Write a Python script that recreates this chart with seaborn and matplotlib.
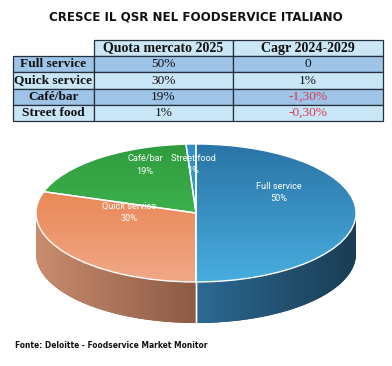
import numpy as np
import matplotlib
matplotlib.use("Agg")
import matplotlib.pyplot as plt
import seaborn as sns
from matplotlib.colors import LinearSegmentedColormap
from matplotlib.patches import Polygon, Wedge
from matplotlib import font_manager

sns.set_theme(style="white")
plt.rcParams['font.family'] = ['Roboto', 'DejaVu Sans']

# ---------------- data ----------------
title = "CRESCE IL QSR NEL FOODSERVICE ITALIANO"
source = "Fonte: Deloitte - Foodservice Market Monitor"
categories = ["Full service", "Quick service", "Café/bar", "Street food"]
share_2025 = [50, 30, 19, 1]
share_labels = ["50%", "30%", "19%", "1%"]
cagr_labels = ["0", "1%", "-1,30%", "-0,30%"]
cagr_values = [0.0, 1.0, -1.3, -0.3]
col_headers = ["Quota mercato 2025", "Cagr 2024-2029"]

# ---------------- styles ----------------
top_dark = ["#2a74a6", "#e5773d", "#2e9c3e", "#2f8fc8"]
top_light = ["#48addf", "#f1a887", "#4ec45c", "#45a9de"]
side_left = ["#2c6a93", "#ca8c6e", "#2a8a38", "#2c6a93"]
side_right = ["#1a3c54", "#8c5a45", "#1f6a2a", "#1a3c54"]
hdr_col = "#cbe7f6"
dark_row = "#9ec4e7"
light_row = "#c9e6f7"
edge_col = "#24303c"
neg_col = "#dc3550"

# pick a condensed bold face if installed, else Roboto
cond_fp = font_manager.FontProperties(family="DejaVu Sans", stretch="condensed",
                                      weight="bold")
cond_path = font_manager.findfont(cond_fp, fallback_to_default=True)
if "Condensed" in cond_path:
    head_font = dict(family="DejaVu Sans", fontstretch="condensed")
else:
    head_font = dict(family=["Roboto", "DejaVu Sans"])

W, H = 392, 366
fig = plt.figure(figsize=(W / 100, H / 100), dpi=100)
fig.patch.set_facecolor("white")
renderer = fig.canvas.get_renderer()


def fig_rect(x0, y0, x1, y1):
    return [x0 / W, 1 - y1 / H, (x1 - x0) / W, (y1 - y0) / H]


def fit_text(t, target_w):
    w = t.get_window_extent(renderer).width
    t.set_fontsize(t.get_fontsize() * target_w / w)


# ---------------- title ----------------
t = fig.text(196 / W, 1 - 17 / H, title, ha="center", va="center",
             fontsize=11, fontweight="bold", color="#111111", **head_font)
fit_text(t, 292)

# ---------------- table ----------------
ax_t = fig.add_axes(fig_rect(13, 40, 383, 121))
ax_t.axis("off")
cell_text = [[""] + col_headers] + [
    [c, s, g] for c, s, g in zip(categories, share_labels, cagr_labels)
]
colw = np.array([81, 139, 150]) / 370
tab = ax_t.table(cellText=cell_text, colWidths=list(colw), bbox=[0, 0, 1, 1],
                 cellLoc="center")
tab.auto_set_font_size(False)
for (r, c), cell in tab.get_celld().items():
    cell.set_linewidth(0.9)
    cell.set_edgecolor(edge_col)
    txt = cell.get_text()
    txt.set_fontfamily("Liberation Serif")
    txt.set_fontsize(9.6)
    txt.set_color("#111111")
    if r == 0:
        if c == 0:
            cell.set_facecolor("white")
            cell.visible_edges = "open"
        else:
            cell.set_facecolor(hdr_col)
            txt.set_fontweight("bold")
            txt.set_fontsize(10.0)
    else:
        cell.set_facecolor(dark_row if r % 2 == 1 else light_row)
        if c == 0:
            txt.set_fontweight("bold")
        if c == 2 and cagr_values[r - 1] < 0:
            txt.set_color(neg_col)

# ---------------- 3D pie ----------------
cx, cy, rx, ry, depth_px = 196, 213, 160, 69, 41
x0, x1, y0, y1 = 30, 362, 138, 332
ax_p = fig.add_axes(fig_rect(x0, y0, x1, y1))
wedges, _ = ax_p.pie(share_2025, startangle=90, counterclock=False,
                     colors=top_dark, wedgeprops=dict(linewidth=0))
depth = depth_px / ry
xl = ((x0 - cx) / rx, (x1 - cx) / rx)
yl = (-(y1 - cy) / ry, (cy - y0) / ry)

gx = np.linspace(0, 1, 256)
hgrad = np.tile(gx, (2, 1))
vgrad = np.tile(gx[:, None], (1, 2))


def visible_interval(a, b):
    # intersect [a,b] (deg) with front half [180,360] allowing 360 shifts
    out = []
    for k in (-720, -360, 0, 360):
        lo, hi = max(a + k, 180), min(b + k, 360)
        if hi > lo:
            out.append((lo, hi))
    return out


for i, w in enumerate(wedges):
    w.set_zorder(3)
    for lo, hi in visible_interval(w.theta1, w.theta2):
        th = np.radians(np.linspace(lo, hi, 80))
        top = np.column_stack([np.cos(th), np.sin(th)])
        bot = np.column_stack([np.cos(th), np.sin(th) - depth])[::-1]
        poly = Polygon(np.vstack([top, bot]), closed=True, facecolor=side_right[i],
                       edgecolor="none", zorder=1)
        ax_p.add_patch(poly)
        cmap = LinearSegmentedColormap.from_list(f"s{i}", [side_left[i], side_right[i]])
        xa, xb = np.cos(np.radians(lo)), np.cos(np.radians(hi))
        ext = [min(xa, xb), max(xa, xb), -1 - depth, 0]
        im = ax_p.imshow(hgrad, cmap=cmap, extent=ext, aspect="auto", zorder=2,
                         interpolation="bilinear")
        im.set_clip_path(poly)
    # top gradient
    cmap = LinearSegmentedColormap.from_list(f"t{i}", [top_light[i], top_dark[i]])
    im = ax_p.imshow(vgrad, cmap=cmap, extent=[-1, 1, -1, 1], origin="lower",
                     aspect="auto", zorder=4, interpolation="bilinear")
    im.set_clip_path(w)
    outline = Wedge((0, 0), 1, w.theta1, w.theta2, facecolor="none",
                    edgecolor="white", linewidth=1.0, zorder=5)
    ax_p.add_patch(outline)

# vertical white lines on the side at visible slice boundaries
for w in wedges:
    for a in (w.theta1, w.theta2):
        s = np.sin(np.radians(a))
        if s < -1e-6:
            c = np.cos(np.radians(a))
            ax_p.plot([c, c], [s, s - depth], color="white", lw=1.0, zorder=5)

# labels
for i, w in enumerate(wedges):
    tm = np.radians((w.theta1 + w.theta2) / 2)
    lx = 0.52 * np.cos(tm)
    ly = min(0.3 + 0.5 * np.sin(tm), 0.7)
    ax_p.text(lx, ly, f"{categories[i]}\n{share_labels[i]}", ha="center",
              va="center", color="white", fontsize=6.6, linespacing=1.5,
              zorder=6)

ax_p.set_aspect("auto")
ax_p.set_xlim(*xl)
ax_p.set_ylim(*yl)
ax_p.axis("off")

# ---------------- source ----------------
s = fig.text(15 / W, 1 - 345 / H, source, ha="left", va="center",
             fontsize=7.5, fontweight="bold", color="#111111", **head_font)
fit_text(s, 192)

fig.savefig("out.png", dpi=100, facecolor="white")
